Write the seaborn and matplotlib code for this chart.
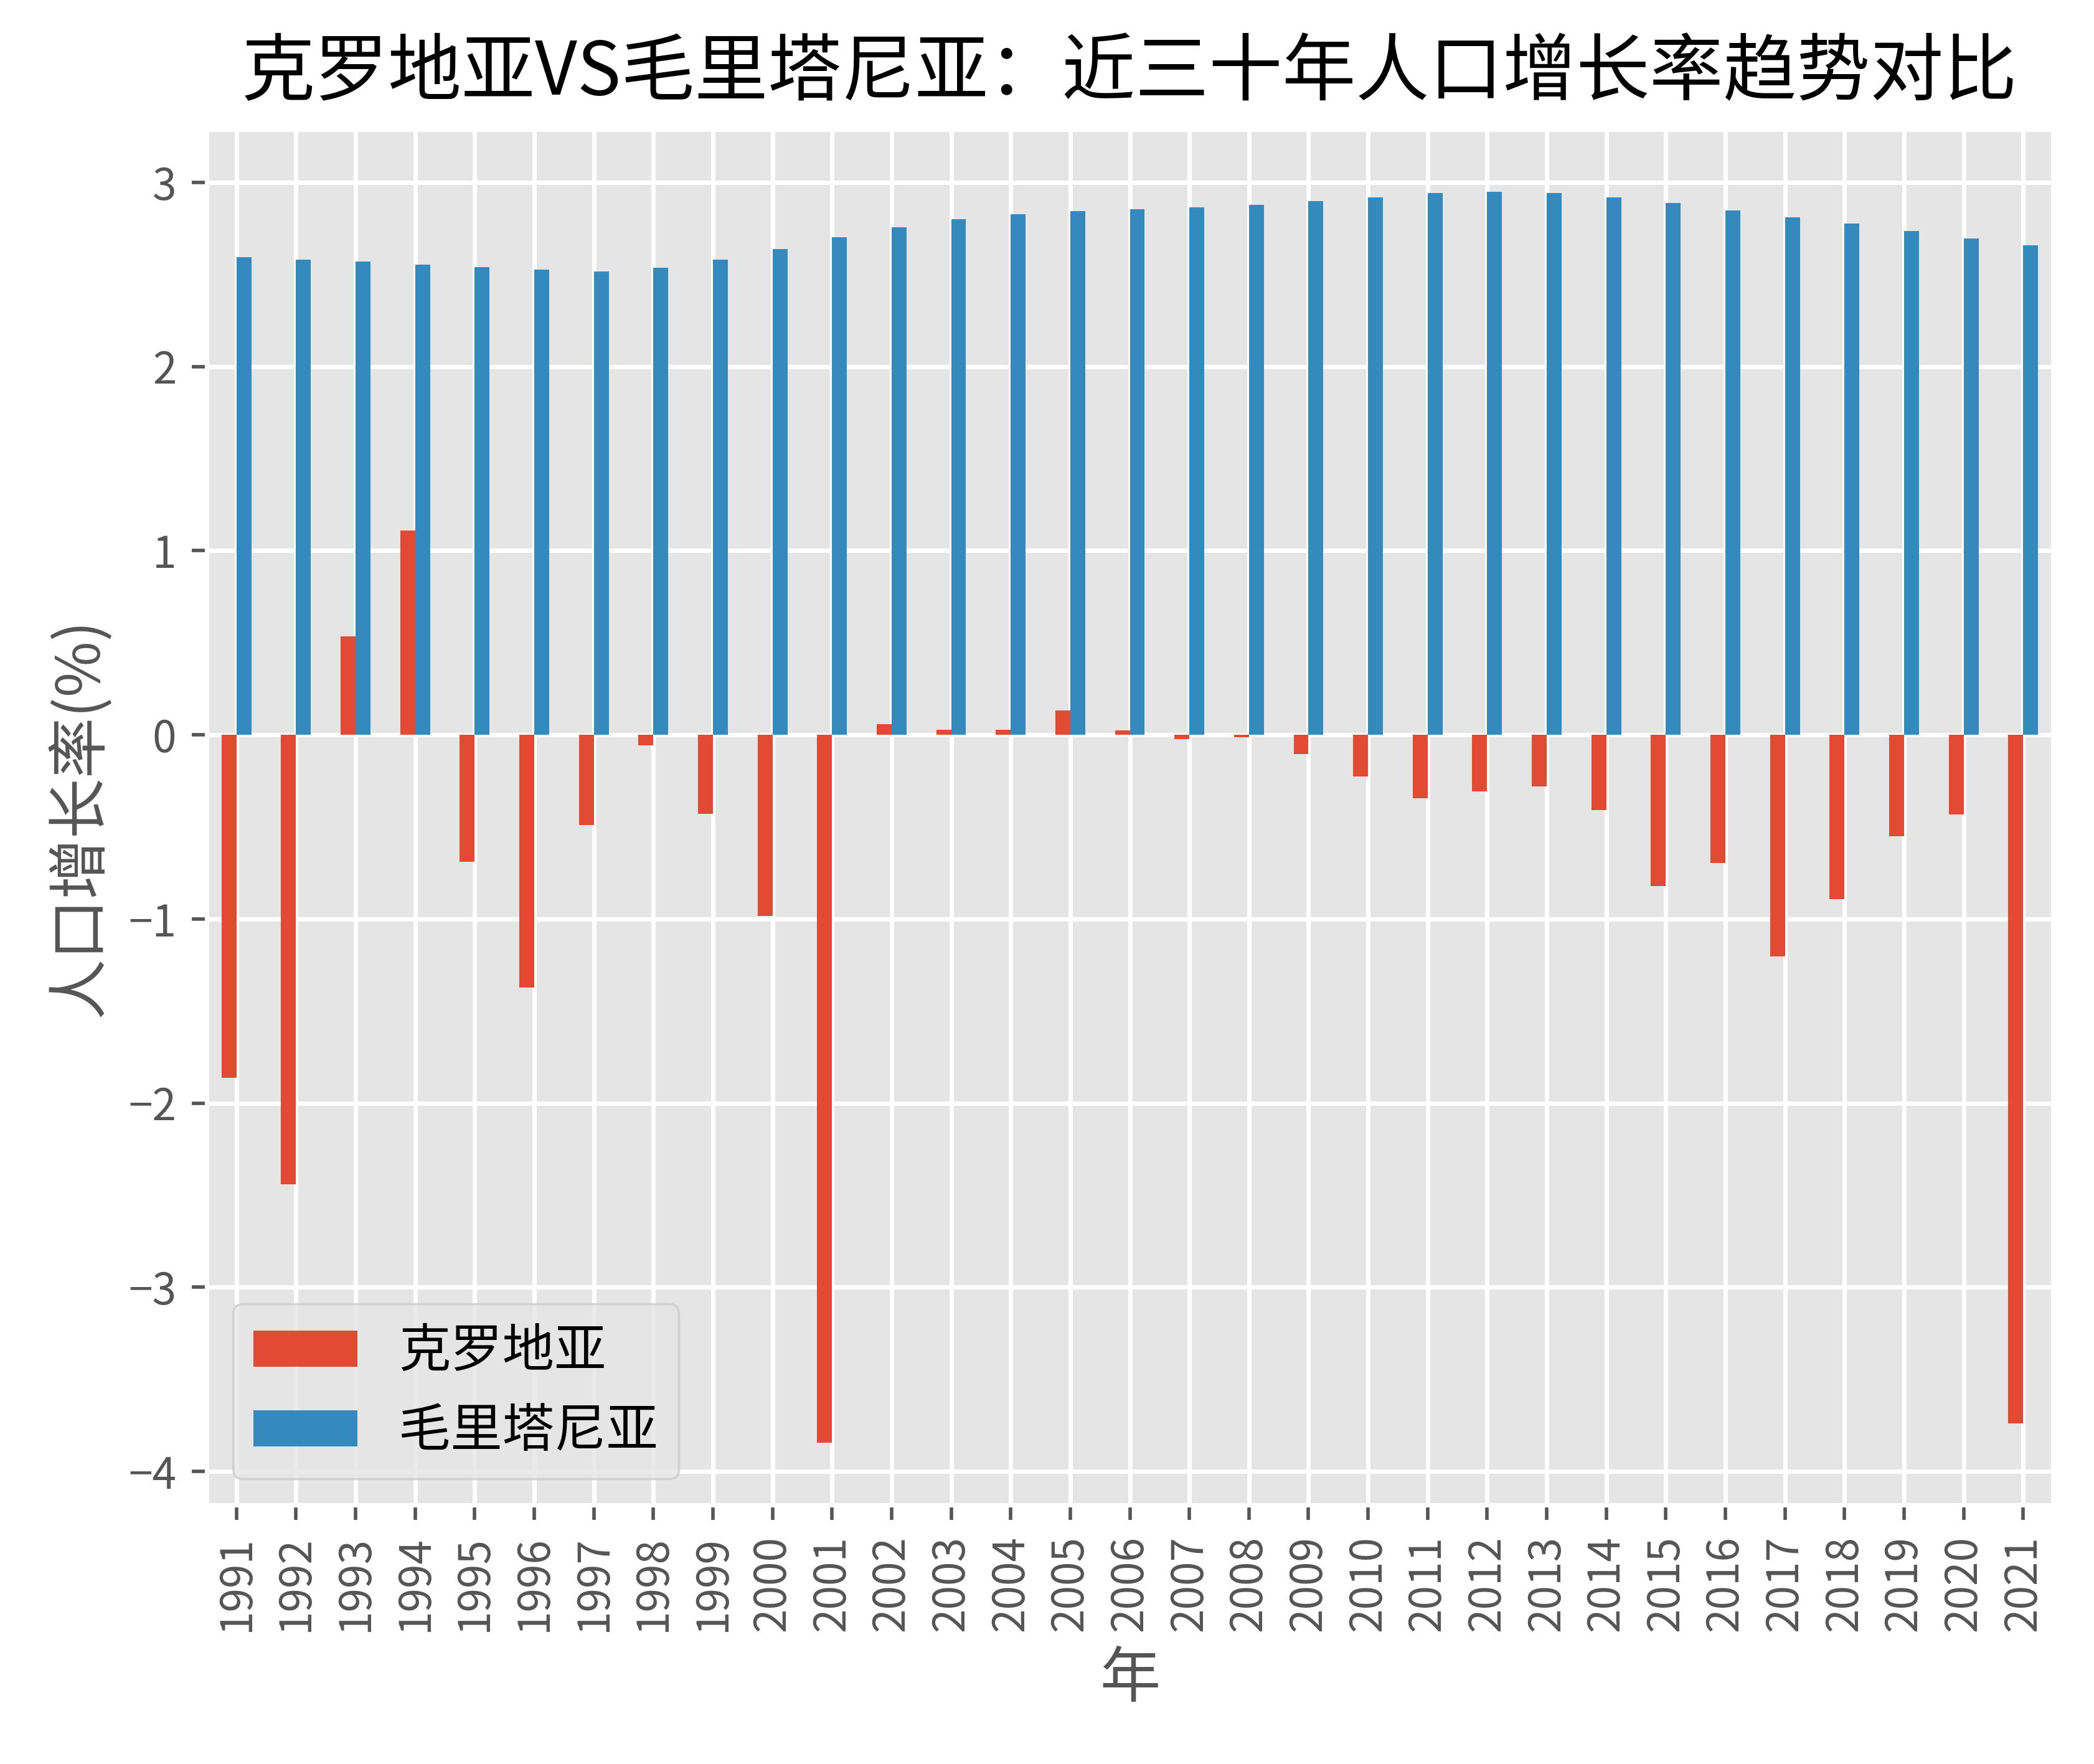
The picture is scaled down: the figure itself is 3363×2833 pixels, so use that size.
import matplotlib
matplotlib.use("Agg")
import matplotlib.pyplot as plt
import seaborn as sns
import pandas as pd

years = list(range(1991, 2022))
croatia = [-1.864, -2.44, 0.536, 1.111, -0.69, -1.373, -0.488, -0.058, -0.43, -0.985,
           -3.843, 0.057, 0.027, 0.027, 0.131, 0.024, -0.024, -0.012, -0.105, -0.226,
           -0.343, -0.307, -0.279, -0.407, -0.822, -0.696, -1.202, -0.892, -0.551, -0.431,
           -3.738]
mauritania = [2.593, 2.582, 2.570, 2.552, 2.539, 2.526, 2.518, 2.536, 2.580, 2.639,
              2.701, 2.758, 2.802, 2.827, 2.843, 2.853, 2.866, 2.879, 2.899, 2.920,
              2.941, 2.948, 2.943, 2.920, 2.889, 2.848, 2.812, 2.776, 2.735, 2.696,
              2.657]
series_names = ["克罗地亚", "毛里塔尼亚"]
colors = ["#E24A33", "#348ABD"]
title = "克罗地亚VS毛里塔尼亚：近三十年人口增长率趋势对比"
xlabel = "年"
ylabel = "人口增长率(%)"

df = pd.DataFrame({
    "年份": [str(y) for y in years] * 2,
    "增长率": croatia + mauritania,
    "国家": [series_names[0]] * len(years) + [series_names[1]] * len(years),
})

plt.style.use("ggplot")
plt.rcParams["font.family"] = ["Noto Sans CJK SC", "DejaVu Sans"]
plt.rcParams["axes.unicode_minus"] = True

fig = plt.figure(figsize=(6.726, 5.666), dpi=500)
ax = fig.add_axes([0.0987, 0.1468, 0.8817, 0.7798])

sns.barplot(data=df, x="年份", y="增长率", hue="国家", palette=colors,
            width=0.5, saturation=1, linewidth=0, errorbar=None, ax=ax)

ax.set_xlim(-0.5, len(years) - 0.5)
ax.grid(True, axis="both", color="white", linewidth=1.0)
ax.set_axisbelow(True)
ax.tick_params(axis="x", labelrotation=90, labelsize=10, colors="#555555")
ax.tick_params(axis="y", labelsize=10, colors="#555555")
ax.set_yticks([-4, -3, -2, -1, 0, 1, 2, 3])

ax.set_title(title, fontsize=17, color="black", pad=8)
ax.set_xlabel(xlabel, fontsize=14, color="#555555")
ax.set_ylabel(ylabel, fontsize=14, color="#555555")

leg = ax.legend(loc="lower left", fontsize=12, title=None)
leg.get_frame().set_facecolor("#E5E5E5")
leg.get_frame().set_edgecolor("#CCCCCC")

fig.savefig("out.png", dpi=500)
